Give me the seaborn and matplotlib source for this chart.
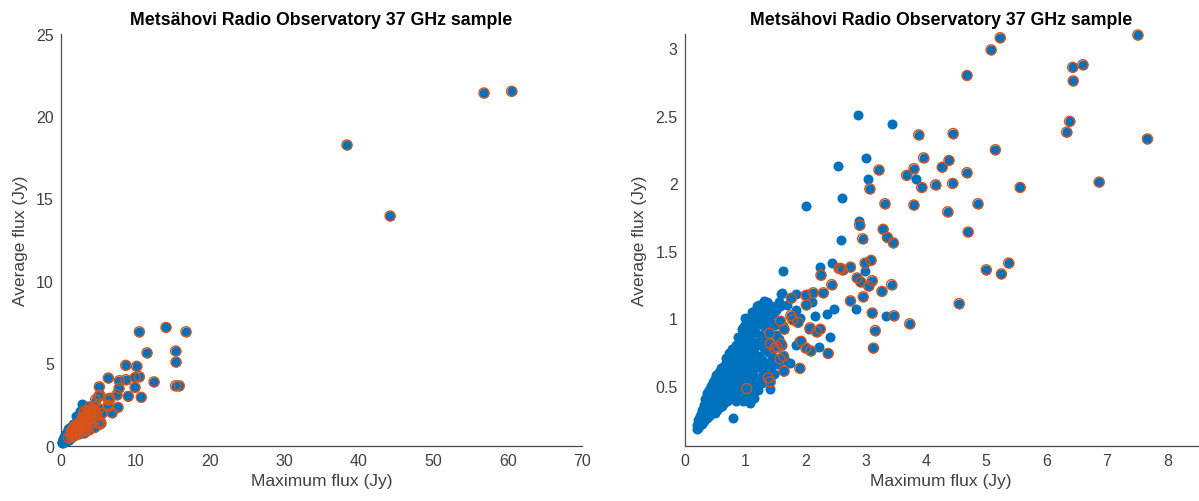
import numpy as np
import matplotlib
matplotlib.use("Agg")
import matplotlib.pyplot as plt
import seaborn as sns

sns.set_style("white")
plt.rcParams["font.family"] = ["Liberation Sans", "DejaVu Sans"]

BLUE = "#0072BD"
ORANGE = "#D95319"
INK = "#404040"

TITLE = "Metsähovi Radio Observatory 37 GHz sample"
X_LABEL = "Maximum flux (Jy)"
Y_LABEL = "Average flux (Jy)"

# Sources of the full sample that are not flagged: (maximum flux, average flux) in Jy
core_sources = [
    (0.20, 0.18), (0.21, 0.21), (0.23, 0.19), (0.24, 0.23), (0.22, 0.25),
    (0.26, 0.21), (0.27, 0.25), (0.25, 0.28), (0.29, 0.22), (0.28, 0.29), (0.30, 0.26), (0.29, 0.32),
    (0.32, 0.24), (0.31, 0.29), (0.33, 0.33), (0.32, 0.36), (0.34, 0.27), (0.35, 0.31), (0.36, 0.38), (0.34, 0.40),
    (0.37, 0.26), (0.38, 0.30), (0.37, 0.34), (0.39, 0.42), (0.38, 0.45), (0.40, 0.28), (0.41, 0.33), (0.40, 0.37),
    (0.42, 0.41), (0.41, 0.47),
    (0.43, 0.29), (0.44, 0.35), (0.45, 0.39), (0.43, 0.44), (0.44, 0.50), (0.46, 0.31), (0.47, 0.36), (0.48, 0.42),
    (0.46, 0.47), (0.47, 0.53),
    (0.50, 0.30), (0.51, 0.34), (0.49, 0.39), (0.52, 0.44), (0.50, 0.49), (0.51, 0.55), (0.53, 0.58),
    (0.54, 0.32), (0.55, 0.37), (0.56, 0.42), (0.54, 0.47), (0.56, 0.52), (0.55, 0.57), (0.57, 0.60),
    (0.58, 0.34), (0.59, 0.39), (0.60, 0.44), (0.58, 0.49), (0.60, 0.54), (0.59, 0.59), (0.61, 0.63),
    (0.62, 0.35), (0.63, 0.41), (0.64, 0.46), (0.62, 0.51), (0.64, 0.56), (0.63, 0.61), (0.65, 0.65),
    (0.66, 0.37), (0.67, 0.42), (0.68, 0.48), (0.66, 0.53), (0.68, 0.58), (0.67, 0.63), (0.69, 0.67), (0.68, 0.71),
    (0.71, 0.39), (0.72, 0.44), (0.70, 0.50), (0.73, 0.55), (0.71, 0.60), (0.72, 0.66), (0.74, 0.70), (0.73, 0.74),
    (0.76, 0.40), (0.77, 0.46), (0.75, 0.51), (0.78, 0.57), (0.76, 0.62), (0.79, 0.67), (0.77, 0.72), (0.78, 0.77),
    (0.80, 0.26), (0.81, 0.41), (0.82, 0.47), (0.80, 0.53), (0.83, 0.58), (0.81, 0.63), (0.84, 0.69), (0.82, 0.74),
    (0.85, 0.80),
    (0.86, 0.39), (0.87, 0.45), (0.88, 0.51), (0.86, 0.57), (0.89, 0.62), (0.87, 0.68), (0.90, 0.74), (0.88, 0.80),
    (0.89, 0.86),
    (0.91, 0.43), (0.92, 0.49), (0.93, 0.56), (0.91, 0.62), (0.94, 0.68), (0.92, 0.75), (0.95, 0.81), (0.93, 0.87),
    (0.96, 0.92),
    (0.97, 0.39), (0.98, 0.46), (0.96, 0.53), (0.99, 0.60), (0.97, 0.66), (1.00, 0.73), (0.98, 0.80), (1.01, 0.86),
    (0.99, 0.94), (1.01, 1.00),
    (1.03, 0.42), (1.04, 0.51), (1.02, 0.58), (1.05, 0.65), (1.03, 0.72), (1.06, 0.79), (1.04, 0.86), (1.07, 0.92),
    (1.05, 0.98),
    (1.09, 0.37), (1.10, 0.45), (1.08, 0.54), (1.11, 0.61), (1.09, 0.69), (1.12, 0.76), (1.10, 0.84), (1.13, 0.91),
    (1.11, 0.98), (1.12, 1.05),
    (1.15, 0.41), (1.16, 0.50), (1.14, 0.58), (1.17, 0.66), (1.15, 0.74), (1.18, 0.82), (1.16, 0.90), (1.19, 0.97),
    (1.17, 1.04), (1.20, 1.09),
    (1.21, 0.47), (1.23, 0.56), (1.22, 0.64), (1.24, 0.72), (1.21, 0.80), (1.25, 0.88), (1.23, 0.96), (1.26, 1.03),
    (1.24, 1.10),
    (1.28, 0.52), (1.30, 0.61), (1.29, 0.69), (1.31, 0.78), (1.28, 0.86), (1.32, 0.94), (1.30, 1.02), (1.33, 1.08),
    (1.31, 1.13),
    (1.35, 0.58), (1.36, 0.67), (1.38, 0.75), (1.35, 0.84), (1.39, 0.92), (1.37, 1.00), (1.40, 1.06), (1.36, 1.12),
    (1.42, 0.48), (1.43, 0.63), (1.45, 0.72), (1.42, 0.97), (1.46, 1.03), (1.44, 1.09),
    (1.49, 0.59), (1.50, 0.68), (1.52, 0.88), (1.48, 0.95), (1.51, 1.06),
    (1.55, 0.66), (1.57, 0.85), (1.54, 0.96), (1.58, 1.09), (1.56, 1.12),
    (1.62, 0.80), (1.63, 0.94), (1.60, 1.18), (1.66, 0.69), (1.63, 0.61),
    (2.87, 2.51), (3.43, 2.44), (2.55, 2.13), (3.01, 2.19), (3.04, 2.03), (3.83, 2.03),
    (2.01, 1.83), (2.61, 1.89), (2.89, 1.72), (2.60, 1.58), (1.64, 1.35), (2.44, 1.41),
    (2.25, 1.38), (2.99, 1.35), (3.34, 1.02), (2.84, 1.07), (2.48, 1.07), (2.36, 1.03),
    (2.16, 1.02), (2.41, 0.86), (2.23, 0.79), (1.84, 0.80), (1.74, 0.67), (1.61, 1.19),
    (2.03, 1.18), (2.11, 1.12), (1.84, 1.18), (1.70, 1.10), (1.85, 1.06), (1.91, 1.00),
    (2.07, 0.92), (1.89, 0.83),
]

# Flagged sources, drawn with an extra ring: (maximum flux, average flux) in Jy
flagged_sources = [
    (7.51, 3.10), (5.23, 3.08), (5.08, 2.99), (4.68, 2.80), (6.43, 2.86), (6.60, 2.88),
    (6.44, 2.76), (6.38, 2.46), (6.33, 2.38), (7.67, 2.33), (5.15, 2.25), (3.88, 2.36),
    (4.45, 2.37), (3.96, 2.19), (4.38, 2.17), (4.27, 2.12), (3.22, 2.10), (3.80, 2.11),
    (3.68, 2.06), (4.68, 2.08), (4.16, 1.99), (4.44, 2.00), (3.93, 1.97), (3.07, 1.96),
    (5.56, 1.97), (6.87, 2.01), (3.32, 1.85), (3.80, 1.84), (4.86, 1.85), (4.36, 1.79),
    (4.70, 1.64), (2.90, 1.69), (2.95, 1.59), (3.29, 1.66), (3.36, 1.60), (3.46, 1.56),
    (5.00, 1.36), (5.25, 1.33), (5.37, 1.41), (4.55, 1.11), (3.73, 0.96), (3.43, 1.25),
    (3.27, 1.20), (3.47, 1.02), (3.11, 1.04), (3.16, 0.91), (3.13, 0.78), (2.75, 1.13),
    (2.96, 1.16), (2.75, 1.38), (2.99, 1.41), (3.09, 1.43), (2.86, 1.30), (3.11, 1.28),
    (2.92, 1.27), (3.05, 1.24), (2.56, 1.37), (2.59, 1.37), (2.62, 1.36), (2.26, 1.32),
    (2.44, 1.25), (2.30, 1.19), (2.13, 1.19), (2.01, 1.17), (1.77, 1.15), (2.02, 1.10),
    (1.76, 1.02), (1.79, 0.99), (1.59, 0.98), (1.88, 0.97), (1.65, 0.92), (2.08, 0.93),
    (2.25, 0.92), (2.19, 0.90), (1.41, 0.89), (1.42, 0.81), (1.60, 0.81), (1.49, 0.78),
    (1.53, 0.79), (1.64, 0.72), (1.58, 0.70), (1.93, 0.83), (2.01, 0.78), (2.09, 0.76),
    (2.38, 0.74), (1.65, 0.61), (1.91, 0.63), (1.39, 0.56), (1.42, 0.53), (1.03, 0.48),
    (56.8, 21.4), (60.5, 21.5), (38.4, 18.25), (44.2, 13.94), (10.54, 6.92), (14.12, 7.18),
    (16.8, 6.92), (11.57, 5.64), (15.42, 5.75), (15.46, 5.08), (8.71, 4.88), (10.18, 4.82),
    (6.38, 4.11), (7.85, 3.95), (8.75, 4.01), (10.0, 4.15), (10.54, 4.19), (12.51, 3.88),
    (5.17, 3.58), (9.96, 3.54), (15.4, 3.64), (15.9, 3.64), (7.81, 3.48), (9.06, 3.00),
    (10.8, 2.94),
]

# Axis ticks for the full view and the zoomed view
full_xticks = [0, 10, 20, 30, 40, 50, 60, 70]
full_yticks = [0, 5, 10, 15, 20, 25]
zoom_xticks = [0, 1, 2, 3, 4, 5, 6, 7, 8]
zoom_yticks = [0.5, 1, 1.5, 2, 2.5, 3]
zoom_ytick_labels = ["0.5", "1", "1.5", "2", "2.5", "3"]

core = np.array(core_sources)
flag = np.array(flagged_sources)
all_max = np.concatenate([core[:, 0], flag[:, 0]])
all_avg = np.concatenate([core[:, 1], flag[:, 1]])
flag_max, flag_avg = flag[:, 0], flag[:, 1]

MARKER_S = 52


def panel(ax, xlim, ylim, xticks, yticks, ytick_labels=None):
    def within(x, y):
        return (x >= xlim[0]) & (x <= xlim[1]) & (y >= ylim[0]) & (y <= ylim[1])

    m = within(all_max, all_avg)
    sns.scatterplot(x=all_max[m], y=all_avg[m], ax=ax, color=BLUE, s=MARKER_S,
                    linewidth=0, clip_on=False, legend=False, zorder=3)
    m2 = within(flag_max, flag_avg)
    sns.scatterplot(x=flag_max[m2], y=flag_avg[m2], ax=ax, color=ORANGE,
                    facecolor="none", edgecolor=ORANGE, s=MARKER_S, linewidth=1.0,
                    clip_on=False, legend=False, zorder=4)

    ax.set_xlim(*xlim)
    ax.set_ylim(*ylim)
    ax.set_xticks(xticks)
    ax.set_xticklabels([str(t) for t in xticks])
    ax.set_yticks(yticks)
    ax.set_yticklabels(ytick_labels if ytick_labels else [str(t) for t in yticks])
    ax.tick_params(direction="in", length=4, width=0.8, colors=INK, labelsize=11.5, pad=5)
    for side in ("top", "right"):
        ax.spines[side].set_visible(False)
    for side in ("left", "bottom"):
        ax.spines[side].set_color("#4d4d4d")
        ax.spines[side].set_linewidth(0.9)
    ax.set_xlabel(X_LABEL, fontsize=12.5, color=INK, labelpad=4)
    ax.set_ylabel(Y_LABEL, fontsize=12.5, color=INK, labelpad=6)
    ax.set_title(TITLE, fontsize=12.8, fontweight="bold", color="black", pad=7)


fig = plt.figure(figsize=(11.99, 5.02), dpi=100)
ax_full = fig.add_axes([0.0507, 0.110, 0.435, 0.821])
ax_zoom = fig.add_axes([0.5709, 0.110, 0.4279, 0.821])

panel(ax_full, (0, 70), (0, 25), full_xticks, full_yticks)
panel(ax_zoom, (0, 8.5), (0.056, 3.11), zoom_xticks, zoom_yticks, zoom_ytick_labels)

fig.savefig("out.png", dpi=100)
